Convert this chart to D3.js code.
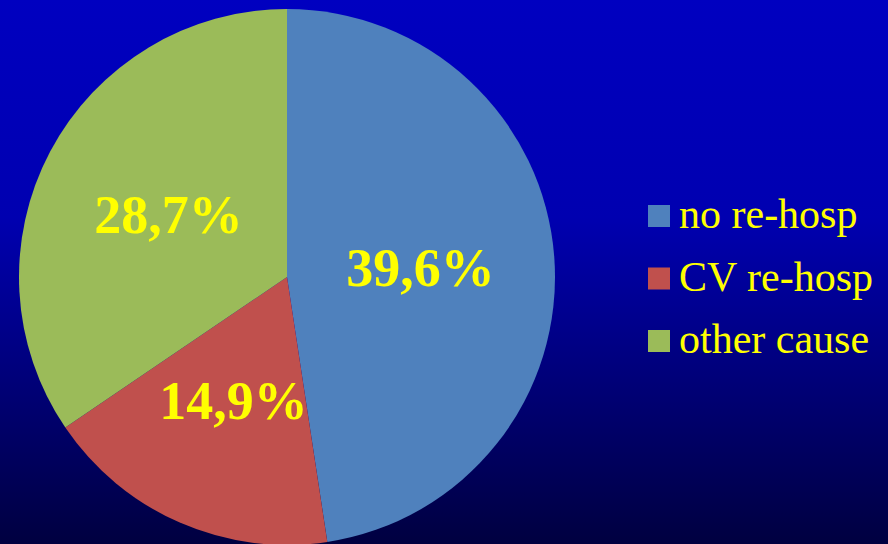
<!DOCTYPE html>
<html>
<head>
<meta charset="utf-8">
<script src="https://cdn.jsdelivr.net/npm/d3@7"></script>
<style>
  body { margin: 0; padding: 0; overflow: hidden; }
</style>
</head>
<body>
<script>
// Chart data
var categories = ['no re-hosp', 'CV re-hosp', 'other cause'];
var values = [39.6, 14.9, 28.7];
var labels = ['39,6%', '14,9%', '28,7%'];
var colors = ['#4f81bd', '#c0504d', '#9bbb59'];

var width = 888;
var height = 544;
var radius = 268;
var cx = 287, cy = 277;

var svg = d3.select('body')
    .append('svg')
    .attr('width', width)
    .attr('height', height);

// Background gradient, blue at top fading to navy
var grad = svg.append('defs')
    .append('linearGradient')
    .attr('id', 'bg')
    .attr('x1', 0).attr('y1', 0)
    .attr('x2', 0).attr('y2', 1);
grad.append('stop').attr('offset', '0%').attr('stop-color', '#0000c0');
grad.append('stop').attr('offset', '40%').attr('stop-color', '#0000b0');
grad.append('stop').attr('offset', '100%').attr('stop-color', '#000040');

svg.append('rect')
    .attr('width', width)
    .attr('height', height)
    .attr('fill', 'url(#bg)');

var pie = d3.pie().sort(null).value(function(d){ return d; });
var arc = d3.arc().innerRadius(0).outerRadius(radius);
var arcs = pie(values);

var g = svg.append('g')
    .attr('transform', 'translate(' + cx + ',' + cy + ')');

g.selectAll('.slice')
    .data(arcs)
    .enter()
    .append('path')
    .attr('class', 'slice')
    .attr('d', arc)
    .attr('fill', function(d, i){ return colors[i]; });

// Percentage labels in the slices
g.selectAll('.pct')
    .data(arcs)
    .enter()
    .append('text')
    .attr('class', 'pct')
    .attr('x', function(d){ return arc.centroid(d)[0]; })
    .attr('y', function(d){ return arc.centroid(d)[1]; })
    .attr('dy', '0.35em')
    .attr('text-anchor', 'middle')
    .attr('font-family', '"Liberation Serif", "Times New Roman", serif')
    .attr('font-weight', 'bold')
    .attr('font-size', 54)
    .attr('fill', '#ffff00')
    .text(function(d, i){ return labels[i]; });

// Legend
var legend = svg.selectAll('.legend')
    .data(categories)
    .enter()
    .append('g')
    .attr('class', 'legend')
    .attr('transform', function(d, i){ return 'translate(648,' + (205 + i * 62.5) + ')'; });

legend.append('rect')
    .attr('width', 22)
    .attr('height', 22)
    .attr('fill', function(d, i){ return colors[i]; });

legend.append('text')
    .attr('x', 31)
    .attr('y', 23)
    .attr('font-family', '"Liberation Serif", "Times New Roman", serif')
    .attr('font-size', 42)
    .attr('fill', '#ffff00')
    .text(function(d){ return d; });
</script>
</body>
</html>
